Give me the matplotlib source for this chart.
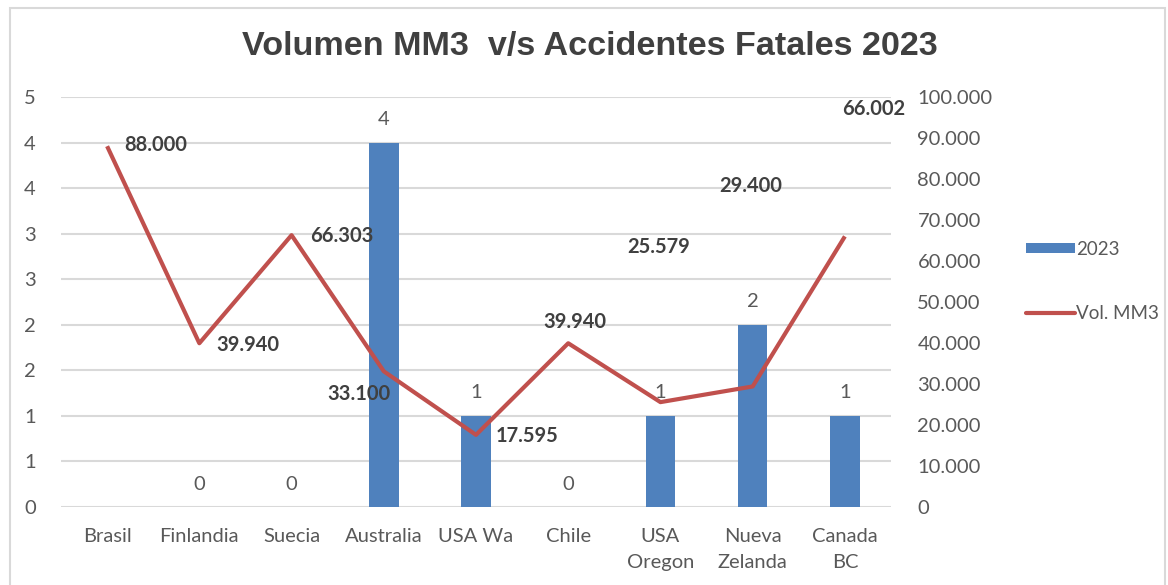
import numpy as np
import matplotlib
matplotlib.use("Agg")
import matplotlib.pyplot as plt
from matplotlib.patches import Rectangle, Patch
from matplotlib.lines import Line2D
from matplotlib.ticker import FixedLocator, FuncFormatter

# ---- data ----
categories = ["Brasil", "Finlandia", "Suecia", "Australia", "USA Wa", "Chile",
              "USA\nOregon", "Nueva\nZelanda", "Canada\nBC"]
accidents_2023 = [np.nan, 0, 0, 4, 1, 0, 1, 2, 1]
volume_mm3 = [88000, 39940, 66303, 33100, 17595, 39940, 25579, 29400, 66002]
left_ticks = [0, 0.5, 1, 1.5, 2, 2.5, 3, 3.5, 4, 4.5]
right_ticks = [0, 10000, 20000, 30000, 40000, 50000, 60000, 70000, 80000, 90000, 100000]
title = "Volumen MM3  v/s Accidentes Fatales 2023"
bar_label = "2023"
line_label = "Vol. MM3"

# label offsets (points) for the line data labels, as placed in the original
line_label_offsets = [(35, 1), (35, -1.5), (36, -0.5), (-18, -16), (37, -1),
                      (5, 15.5), (-1, 112), (-1.5, 144), (21, 92)]

BAR_C = "#4F81BD"
LINE_C = "#C0504D"
GRID_C = "#D9D9D9"
TXT_C = "#595959"
LBL_C = "#404040"

plt.rcParams['font.family'] = ['Lato', 'DejaVu Sans']

fig = plt.figure(figsize=(11.68, 5.85), dpi=100)
W, H = 1168, 585
ax = fig.add_axes([61 / W, 1 - 507 / H, 830 / W, 410 / H])
ax2 = ax.twinx()

x = np.arange(len(categories))
ax.bar(x, accidents_2023, width=0.32, color=BAR_C, zorder=2)
ax.set_xlim(-0.5, len(categories) - 0.5)
ax.set_ylim(0, 4.5)
ax.yaxis.set_major_locator(FixedLocator(left_ticks))
ax.yaxis.set_major_formatter(FuncFormatter(lambda v, p: f"{int(np.floor(v + 0.5))}"))
ax.set_xticks(x)
ax.set_xticklabels(categories, linespacing=1.62)
ax.grid(axis='y', color=GRID_C, lw=1.5, zorder=0)
ax.set_axisbelow(True)

for i, v in enumerate(accidents_2023):
    if np.isnan(v):
        continue
    ax.annotate(f"{int(v)}", (x[i], v), xytext=(0, 16.5), textcoords='offset points',
                ha='center', va='center', fontsize=14.5, color=TXT_C)

ax2.plot(x, volume_mm3, color=LINE_C, lw=3, solid_joinstyle='round',
         solid_capstyle='butt', zorder=3)
ax2.set_ylim(0, 100000)
ax2.yaxis.set_major_locator(FixedLocator(right_ticks))
ax2.yaxis.set_major_formatter(FuncFormatter(lambda v, p: f"{int(v):,}".replace(",", ".")))

for i, v in enumerate(volume_mm3):
    dx, dy = line_label_offsets[i]
    ax2.annotate(f"{v:,}".replace(",", "."), (x[i], v), xytext=(dx, dy),
                 textcoords='offset points', ha='center', va='center',
                 fontsize=14.5, fontweight='bold', color=LBL_C)

for a in (ax, ax2):
    for s in a.spines.values():
        s.set_visible(False)
ax.tick_params(axis='y', length=0, pad=18, labelsize=14.5, labelcolor=TXT_C)
ax.tick_params(axis='x', length=0, pad=15, labelsize=14.5, labelcolor=TXT_C)
ax2.tick_params(axis='y', length=0, pad=19, labelsize=14.5, labelcolor=TXT_C)

fig.text(590 / W, 1 - 47 / H, title, ha='center', va='center', fontsize=24.6,
         fontweight='bold', color="#404040", family=['Liberation Sans', 'DejaVu Sans'])

handles = [Patch(facecolor=BAR_C, edgecolor='none'),
           Line2D([0], [0], color=LINE_C, lw=3, solid_capstyle='round')]
fig.legend(handles, [bar_label, line_label], loc='upper left',
           bbox_to_anchor=(1009 / W, 1 - 224 / H), frameon=False, fontsize=13.5,
           labelcolor=TXT_C, handlelength=2.6, handleheight=0.45,
           handletextpad=0.1, labelspacing=2.52)

fig.patches.append(Rectangle((10 / W, -0.02), 1155 / W, 1 - 8 / H + 0.02,
                             transform=fig.transFigure, fill=False,
                             edgecolor=GRID_C, lw=1.5))

fig.savefig("out.png", dpi=100)
